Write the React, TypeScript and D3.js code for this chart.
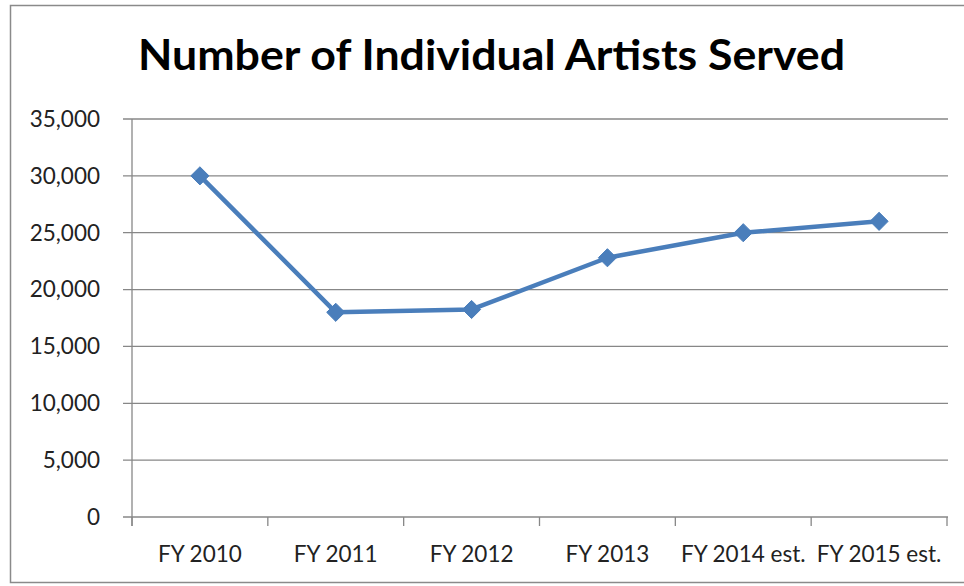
import React from "react";
import * as d3 from "d3";

const categories = ["FY 2010", "FY 2011", "FY 2012", "FY 2013", "FY 2014 est.", "FY 2015 est."];
const values = [30000, 18000, 18250, 22800, 25000, 26000];
const yTicks = [0, 5000, 10000, 15000, 20000, 25000, 30000, 35000];
const title = "Number of Individual Artists Served";

const W = 964;
const H = 586;
const plotLeft = 132;
const plotRight = 947;
const plotTop = 119;
const plotBottom = 517;

export default function App() {
  const x = d3.scaleBand<string>().domain(categories).range([plotLeft, plotRight]);
  const y = d3.scaleLinear().domain([0, 35000]).range([plotBottom, plotTop]);
  const fmt = d3.format(",");
  const line = d3
    .line<number>()
    .x((_, i) => (x(categories[i]) as number) + x.bandwidth() / 2)
    .y((d) => y(d));
  const diamond = d3.symbol().type(d3.symbolDiamond2).size(210)();
  const gray = "#878787";
  const boundaries = categories.map((c) => x(c) as number).concat([plotRight]);

  return (
    <svg
      width={W}
      height={H}
      style={{ position: "absolute", left: 0, top: 0, background: "#fff" }}
      fontFamily="Lato, 'Open Sans', sans-serif"
    >
      <rect x={0} y={0} width={W} height={H} fill="#fff" />
      <rect x={10.5} y={5.5} width={W + 10} height={577} fill="none" stroke="#8a8a8a" strokeWidth={1.5} />
      <text
        x={491.5}
        y={70}
        textAnchor="middle"
        fontSize={42}
        fontWeight="bold"
        fill="#000"
        textLength={707}
        lengthAdjust="spacingAndGlyphs"
      >
        {title}
      </text>
      {yTicks.map((t) => (
        <g key={t}>
          <line x1={123} x2={plotRight + 1} y1={y(t)} y2={y(t)} stroke={gray} strokeWidth={1.3} />
          <text x={100} y={y(t)} dy="0.35em" textAnchor="end" fontSize={22.5} fill="#222">
            {fmt(t)}
          </text>
        </g>
      ))}
      <line x1={plotLeft} x2={plotLeft} y1={plotTop} y2={plotBottom + 9} stroke={gray} strokeWidth={1.3} />
      {boundaries.map((b, i) => (
        <line key={i} x1={b} x2={b} y1={plotBottom} y2={plotBottom + 9} stroke={gray} strokeWidth={1.3} />
      ))}
      {categories.map((c) => (
        <text
          key={c}
          x={(x(c) as number) + x.bandwidth() / 2}
          y={562}
          textAnchor="middle"
          fontSize={22.5}
          fill="#222"
        >
          {c}
        </text>
      ))}
      <path d={line(values) || ""} fill="none" stroke="#4a7ebb" strokeWidth={4.5} strokeLinejoin="round" />
      {values.map((v, i) => (
        <path
          key={i}
          d={diamond || ""}
          transform={`translate(${(x(categories[i]) as number) + x.bandwidth() / 2},${y(v)})`}
          fill="#4a7ebb"
          stroke="#4a7ebb"
          strokeWidth={1}
        />
      ))}
    </svg>
  );
}
